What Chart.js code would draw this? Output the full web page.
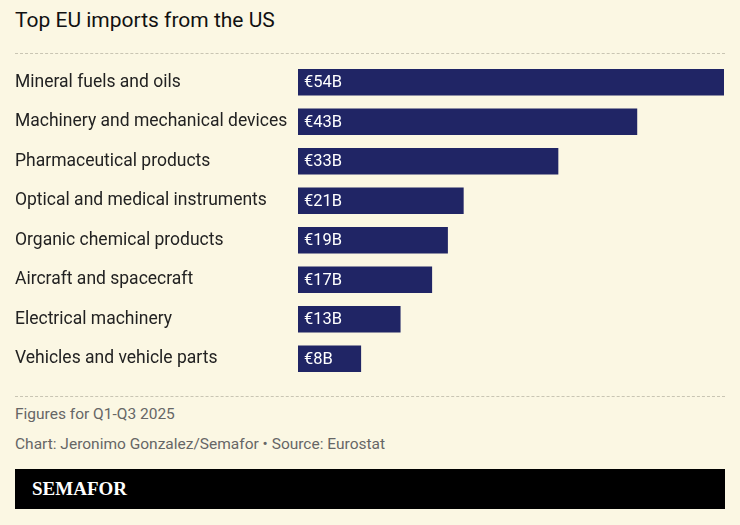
<!DOCTYPE html>
<html>
<head>
<meta charset="utf-8">
<script src="https://cdn.jsdelivr.net/npm/chart.js@4"></script>
<style>
  body { margin: 0; background: #fbf7e3; font-family: Roboto, sans-serif; }
  .wrap { position: relative; width: 740px; height: 525px; }
  h1 { position: absolute; left: 15px; top: 8px; margin: 0; font-size: 21px; font-weight: 400; color: #111; }
  .rule { position: absolute; left: 15px; width: 710px; border-top: 1px dashed #c9c5b3; }
  .note { position: absolute; left: 15px; font-size: 15.5px; color: #666; }
  .brand { position: absolute; left: 15px; top: 469px; width: 710px; height: 40px; background: #000; }
  .brand span { position: absolute; left: 17px; top: 9px; color: #fff; font: bold 19px "Liberation Serif", serif; }
  #box { position: absolute; left: 0; top: 52px; width: 740px; height: 337px; }
</style>
</head>
<body>
<div class="wrap">
  <h1>Top EU imports from the US</h1>
  <div class="rule" style="top:53px"></div>
  <div id="box"><canvas id="chart"></canvas></div>
  <div class="rule" style="top:396px"></div>
  <div class="note" style="top:405px">Figures for Q1-Q3 2025</div>
  <div class="note" style="top:435px">Chart: Jeronimo Gonzalez/Semafor • Source: Eurostat</div>
  <div class="brand"><span>SEMAFOR</span></div>
</div>
<script>
const categories = [
  'Mineral fuels and oils',
  'Machinery and mechanical devices',
  'Pharmaceutical products',
  'Optical and medical instruments',
  'Organic chemical products',
  'Aircraft and spacecraft',
  'Electrical machinery',
  'Vehicles and vehicle parts'
];
const importsBillions = [54, 43, 33, 21, 19, 17, 13, 8];

// writes "€54B" inside the left end of each bar
const valueLabels = {
  id: 'valueLabels',
  afterDatasetsDraw(chart) {
    const ctx = chart.ctx;
    ctx.save();
    ctx.fillStyle = '#fff';
    ctx.font = '16.5px Roboto, sans-serif';
    ctx.textBaseline = 'middle';
    chart.getDatasetMeta(0).data.forEach((bar, i) => {
      ctx.fillText('€' + importsBillions[i] + 'B', bar.base + 6, bar.y + 1);
    });
    ctx.restore();
  }
};

new Chart(document.getElementById('chart'), {
  type: 'bar',
  data: {
    labels: categories,
    datasets: [{
      data: importsBillions,
      backgroundColor: '#202565',
      barPercentage: 0.67,
      categoryPercentage: 1
    }]
  },
  options: {
    indexAxis: 'y',
    responsive: true,
    maintainAspectRatio: false,
    animation: false,
    layout: { padding: { left: 15, right: 16 } },
    plugins: { legend: { display: false }, tooltip: { enabled: false } },
    scales: {
      x: { display: false, min: 0, max: 54 },
      y: {
        grid: { display: false },
        border: { display: false },
        afterFit: (axis) => { axis.width = 283; },
        ticks: {
          crossAlign: 'far',
          padding: 0,
          color: '#222',
          font: { size: 17.5, family: 'Roboto, sans-serif' }
        }
      }
    }
  },
  plugins: [valueLabels]
});
</script>
</body>
</html>
